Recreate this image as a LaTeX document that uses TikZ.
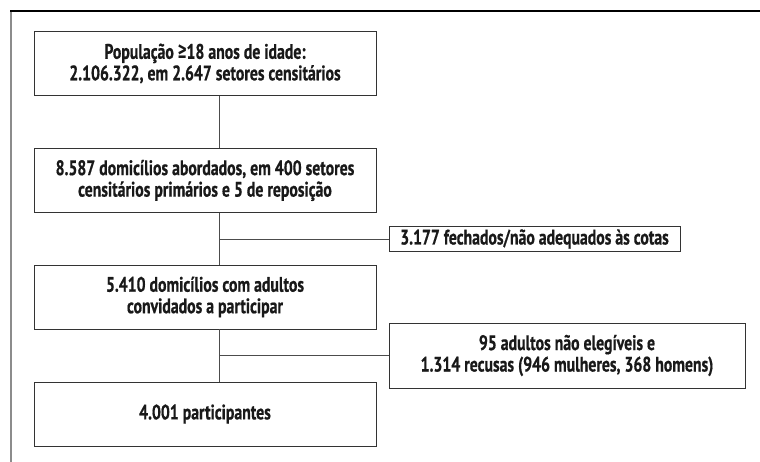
\documentclass[tikz,border=0pt]{standalone}
\usepackage{fontspec}
\setmainfont[FakeStretch=0.75,BoldFeatures={FakeBold=0.6}]{PT Sans}
\newfontfamily\geqfont[FakeStretch=0.8]{Fira Sans}
\usepackage{tikz}

\begin{document}
\begin{tikzpicture}[x=1pt,y=-1pt,
    flowbox/.style={draw=black!80,line width=0.9pt,align=center,inner sep=0pt,
      font=\fontsize{21}{21.5}\selectfont\bfseries,text=black!90},
    link/.style={draw=black!70,line width=0.9pt}]
    \useasboundingbox (0,0) rectangle (760,462);
    \node[flowbox,minimum width=342pt,minimum height=64pt] (pop) at (205, 63.5) {População {\geqfont\bfseries ≥}18 anos de idade:\\2.106.322, em 2.647 setores censitários};
    \node[flowbox,minimum width=342pt,minimum height=64pt] (dom) at (205,180.5) {8.587 domicílios abordados, em 400 setores\\censitários primários e 5 de reposição};
    \node[flowbox,minimum width=291pt,minimum height=25pt] (fech) at (534.5,239) {3.177 fechados/não adequados às cotas};
    \node[flowbox,minimum width=342pt,minimum height=64pt] (conv) at (205,297) {5.410 domicílios com adultos\\convidados a participar};
    \node[flowbox,minimum width=356pt,minimum height=65pt] (nelig) at (567,355.5) {95 adultos não elegíveis e\\1.314 recusas (946 mulheres, 368 homens)};
    \node[flowbox,minimum width=342pt,minimum height=64pt] (part) at (205,414) {4.001 participantes};
    \coordinate (j1) at (219,239);
    \coordinate (j2) at (219,355.5);
    \draw [link] (pop.south -| j1) to (dom.north -| j1);
    \draw [link] (dom.south -| j1) to (conv.north -| j1);
    \draw [link] (conv.south -| j2) to (part.north -| j2);
    \draw [link] (j1) to (fech.west);
    \draw [link] (j2) to (nelig.west);
    \draw [black!45,line width=1.2pt] (11,462) -- (11,11);
    \draw [black,line width=1.2pt] (10.4,11) -- (760,11);
  \end{tikzpicture}
\end{document}
